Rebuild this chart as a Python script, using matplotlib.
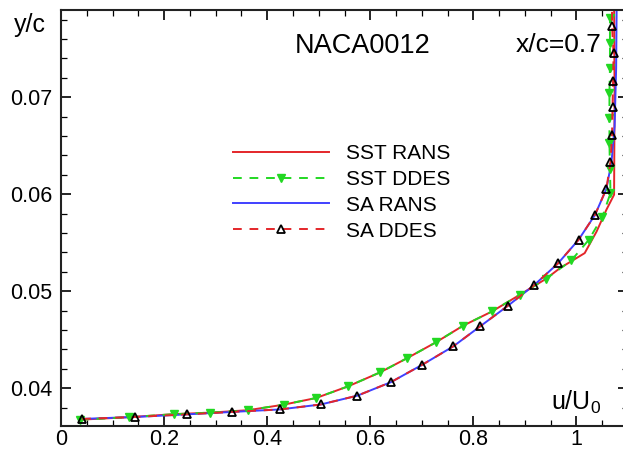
import matplotlib
matplotlib.use("Agg")
import matplotlib.pyplot as plt
from matplotlib.ticker import MultipleLocator, FuncFormatter

plt.rcParams['font.family'] = ['Liberation Sans', 'DejaVu Sans']

# Boundary-layer velocity profiles, NACA0012 at x/c = 0.7
sst_rans_u = [0.037, 0.132, 0.219, 0.290, 0.363, 0.432, 0.495, 0.557, 0.619, 0.672, 0.727,
              0.780, 0.836, 0.890, 0.941, 0.968, 1.016, 1.039, 1.058, 1.073, 1.074, 1.073]
sst_rans_y = [0.03675, 0.03701, 0.03732, 0.03748, 0.03773, 0.03830, 0.03899, 0.04019, 0.04163,
              0.04311, 0.04472, 0.04644, 0.04791, 0.04963, 0.05128, 0.05238, 0.05393, 0.05615,
              0.05839, 0.05995, 0.07000, 0.07950]

sst_ddes_u = [0.037, 0.132, 0.219, 0.290, 0.363, 0.432, 0.495, 0.557, 0.619, 0.672, 0.727,
              0.780, 0.836, 0.890, 0.941, 0.990, 1.024, 1.050, 1.066, 1.065, 1.064, 1.064,
              1.064, 1.065, 1.065, 1.065, 1.065]
sst_ddes_y = [0.03675, 0.03701, 0.03732, 0.03748, 0.03773, 0.03830, 0.03899, 0.04019, 0.04163,
              0.04311, 0.04472, 0.04644, 0.04791, 0.04963, 0.05128, 0.05317, 0.05530, 0.05764,
              0.06011, 0.06261, 0.06529, 0.06787, 0.07044, 0.07302, 0.07559, 0.07817, 0.08075]

sa_rans_u = [0.041, 0.143, 0.244, 0.332, 0.425, 0.504, 0.575, 0.640, 0.701, 0.761, 0.813,
             0.867, 0.918, 0.964, 1.004, 1.036, 1.058, 1.068, 1.074, 1.077, 1.078]
sa_rans_y = [0.03683, 0.03703, 0.03730, 0.03755, 0.03781, 0.03832, 0.03923, 0.04062, 0.04242,
             0.04431, 0.04637, 0.04850, 0.05063, 0.05286, 0.05530, 0.05787, 0.06055, 0.06331,
             0.06700, 0.07300, 0.07950]

sa_ddes_u = [0.041, 0.143, 0.244, 0.332, 0.425, 0.504, 0.575, 0.640, 0.701, 0.761, 0.813,
             0.867, 0.918, 0.964, 1.004, 1.036, 1.058, 1.066, 1.069, 1.070, 1.071, 1.072,
             1.069, 1.069]
sa_ddes_y = [0.03683, 0.03703, 0.03730, 0.03755, 0.03781, 0.03832, 0.03923, 0.04062, 0.04242,
             0.04431, 0.04637, 0.04850, 0.05063, 0.05286, 0.05530, 0.05787, 0.06055, 0.06331,
             0.06612, 0.06897, 0.07168, 0.07453, 0.07734, 0.08010]

x_ticks = [0, 0.2, 0.4, 0.6, 0.8, 1]
y_ticks = [0.04, 0.05, 0.06, 0.07]

RED = '#e4262a'
GREEN = '#22d822'
BLUE = '#4040ff'

W, H = 623, 451
fig = plt.figure(figsize=(W / 100, H / 100), dpi=100)
ax = fig.add_axes([61 / W, (H - 426) / H, (628 - 61) / W, (426 - 10) / H])

l1, = ax.plot(sst_rans_u, sst_rans_y, color=RED, lw=1.4, label='SST RANS', zorder=2)
l3, = ax.plot(sa_rans_u, sa_rans_y, color=BLUE, lw=1.4, label='SA RANS', zorder=2)
l2, = ax.plot(sst_ddes_u, sst_ddes_y, color=GREEN, lw=1.4, dashes=(4.5, 4),
              marker='v', ms=6, mfc=GREEN, mec=GREEN, label='SST DDES', zorder=3)
l4, = ax.plot(sa_ddes_u, sa_ddes_y, color=RED, lw=1.4, dashes=(4.5, 4),
              marker='^', ms=5.5, mfc='none', mec='black', mew=1.3, label='SA DDES', zorder=4)

ax.set_xlim(0, 1.1)
ax.set_ylim(0.0361, 0.079)
ax.set_xticks(x_ticks)
ax.set_yticks(y_ticks)
ax.xaxis.set_minor_locator(MultipleLocator(0.05))
ax.yaxis.set_minor_locator(MultipleLocator(0.002))
fmt = FuncFormatter(lambda v, _: f'{v:g}')
ax.xaxis.set_major_formatter(fmt)
ax.yaxis.set_major_formatter(fmt)
ax.tick_params(which='both', direction='in', top=True, right=True, labelsize=15.5,
               colors='black')
ax.tick_params(which='major', length=7.2, width=1.2)
ax.tick_params(which='minor', length=4, width=0.9)
ax.tick_params(axis='x', pad=2)
ax.tick_params(axis='y', pad=6)
for s in ax.spines.values():
    s.set_linewidth(1.5)
    s.set_color('#222222')

fig.text(14 / W, 1 - 25 / H, 'y/c', fontsize=18, va='center', ha='left')
fig.text(363 / W, 1 - 46 / H, 'NACA0012', fontsize=19.5, va='center', ha='center')
fig.text(516 / W, 1 - 45 / H, 'x/c=0.7', fontsize=19, va='center', ha='left')
fig.text(551 / W, 1 - 402 / H, r'$\mathregular{u/U_0}$', fontsize=18, va='center', ha='left')

leg = ax.legend(handles=[l1, l2, l3, l4], loc='upper left',
                bbox_to_anchor=(233 / W, 1 - 144 / H), bbox_transform=fig.transFigure,
                frameon=False, fontsize=15, handlelength=4.6, handletextpad=0.8,
                labelspacing=0.33, borderpad=0, borderaxespad=0, numpoints=1)

fig.savefig('out.png', dpi=100)
